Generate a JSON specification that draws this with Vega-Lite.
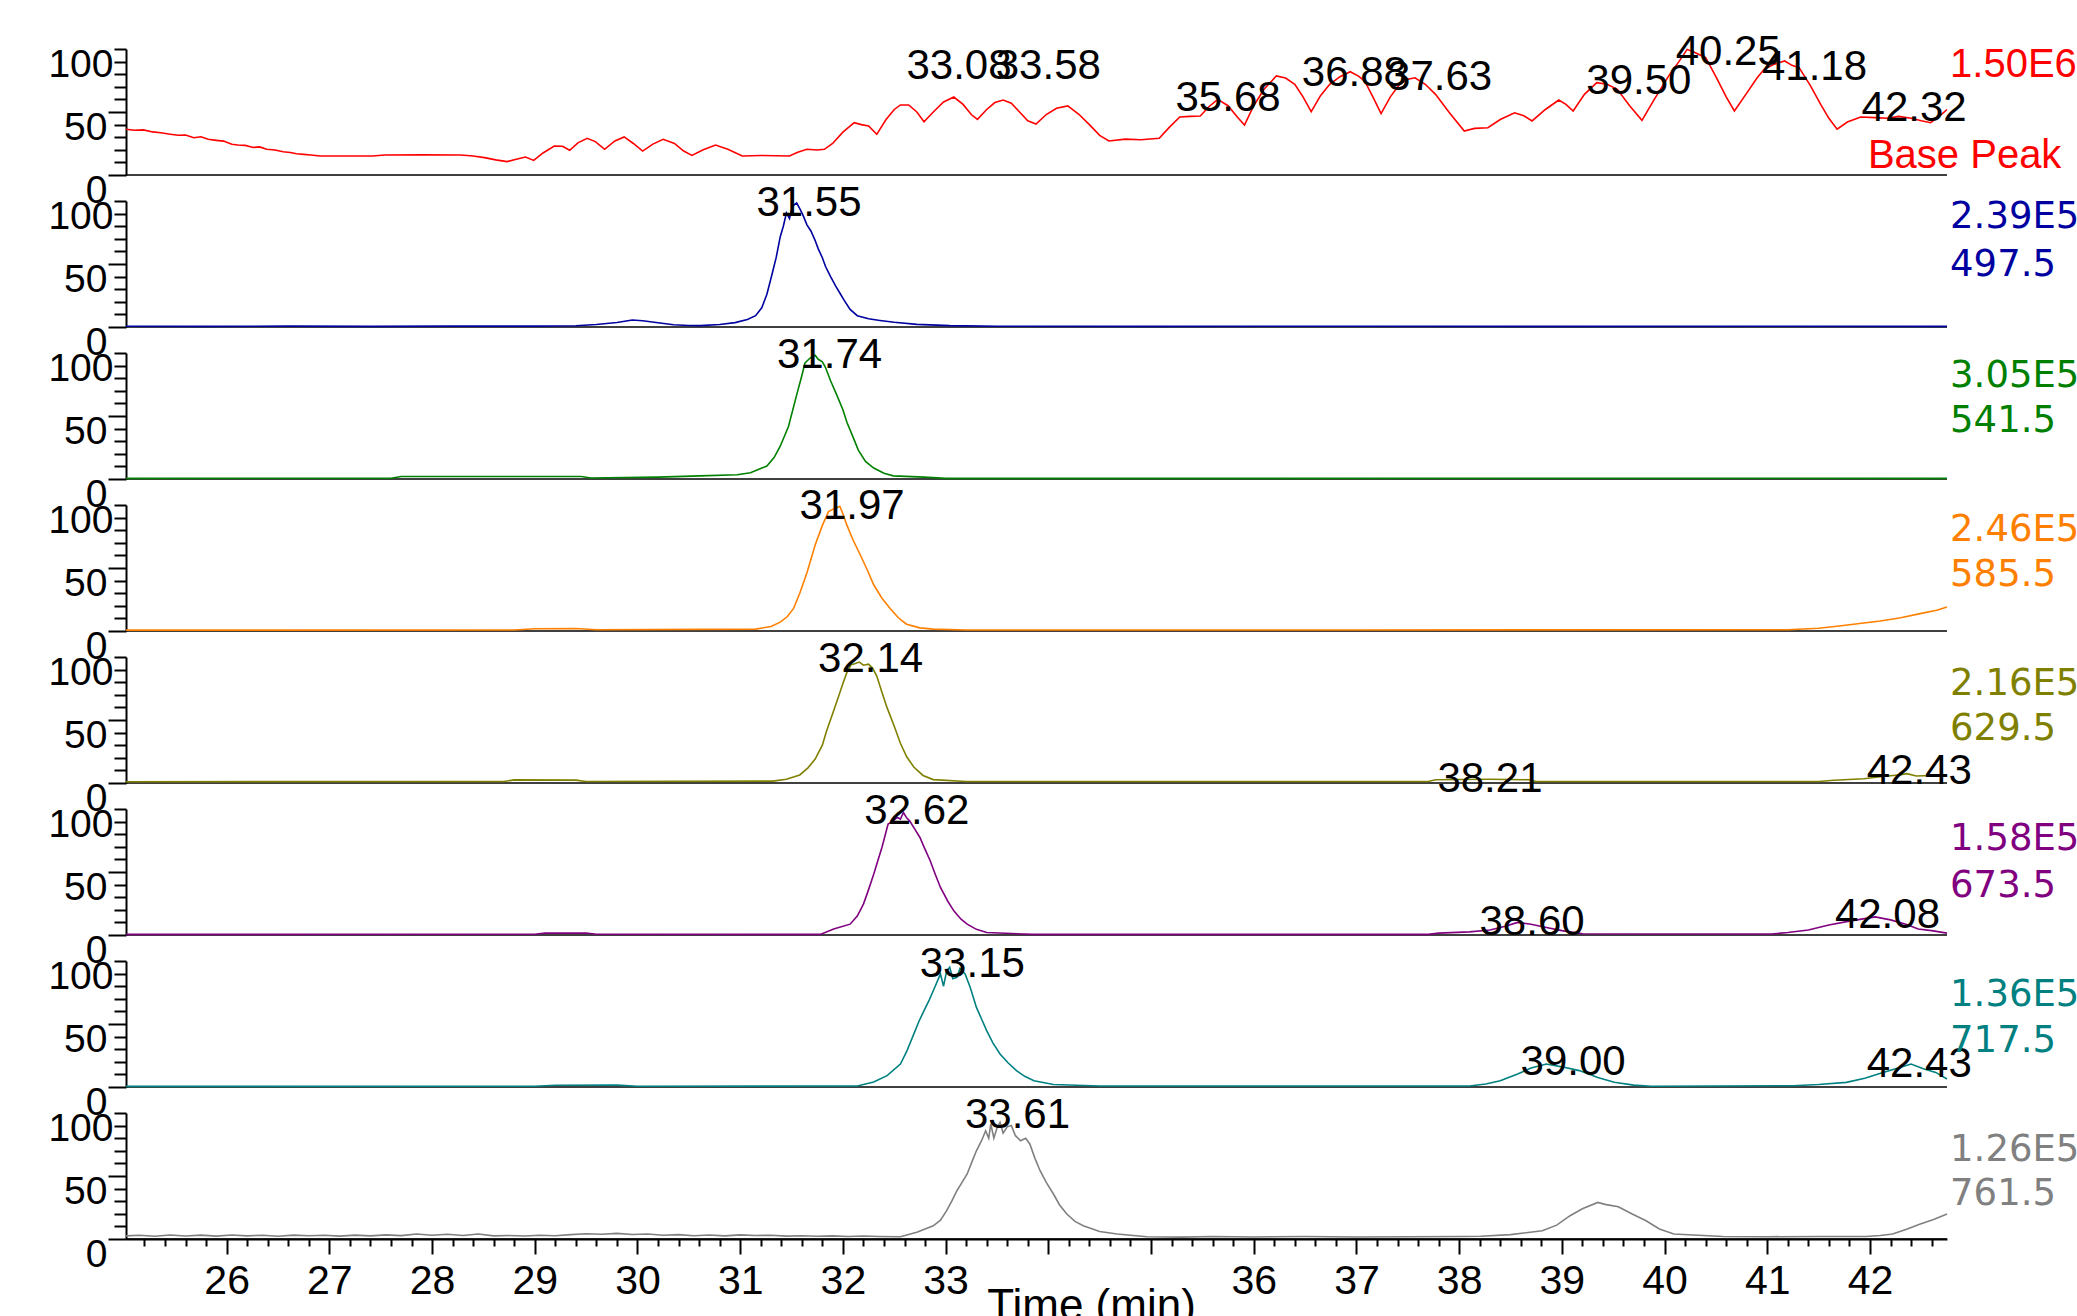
{
"$schema": "https://vega.github.io/schema/vega-lite/v6.json",
"padding": {"left": 47, "top": 30, "right": 0, "bottom": 0},
"bounds": "flush",
"background": "white",
"config": {"view": {"stroke": null}, "font": "Liberation Sans", "axis": {"labelOverlap": false, "labelFlush": false, "labelBound": false}},
"data": {"values": [
{"p":0,"t":25.02,"v":36.3},{"p":0,"t":25.1,"v":35.5},{"p":0,"t":25.19,"v":35.8},{"p":0,"t":25.28,"v":34.2},{"p":0,"t":25.36,"v":33.5},{"p":0,"t":25.45,"v":32.4},{"p":0,"t":25.53,"v":31.5},{"p":0,"t":25.6,"v":31.8},{"p":0,"t":25.68,"v":29.6},{"p":0,"t":25.75,"v":30.4},{"p":0,"t":25.82,"v":28.3},{"p":0,"t":25.9,"v":27.5},{"p":0,"t":25.97,"v":26.9},{"p":0,"t":26.05,"v":24.4},{"p":0,"t":26.11,"v":23.8},{"p":0,"t":26.18,"v":23.5},{"p":0,"t":26.26,"v":21.9},{"p":0,"t":26.32,"v":22.3},{"p":0,"t":26.39,"v":20.4},{"p":0,"t":26.47,"v":19.8},{"p":0,"t":26.55,"v":18.4},{"p":0,"t":26.62,"v":17.9},{"p":0,"t":26.68,"v":16.9},{"p":0,"t":26.75,"v":16.4},{"p":0,"t":26.82,"v":15.9},{"p":0,"t":26.91,"v":15.1},{"p":0,"t":27.2,"v":15.1},{"p":0,"t":27.42,"v":15.1},{"p":0,"t":27.54,"v":15.9},{"p":0,"t":27.9,"v":16.0},{"p":0,"t":28.28,"v":15.9},{"p":0,"t":28.4,"v":15.1},{"p":0,"t":28.51,"v":13.8},{"p":0,"t":28.62,"v":12.0},{"p":0,"t":28.73,"v":10.6},{"p":0,"t":28.82,"v":12.5},{"p":0,"t":28.91,"v":14.3},{"p":0,"t":28.99,"v":11.6},{"p":0,"t":29.08,"v":17.5},{"p":0,"t":29.19,"v":23.0},{"p":0,"t":29.27,"v":22.8},{"p":0,"t":29.34,"v":19.6},{"p":0,"t":29.42,"v":25.5},{"p":0,"t":29.51,"v":29.1},{"p":0,"t":29.59,"v":26.5},{"p":0,"t":29.68,"v":20.4},{"p":0,"t":29.78,"v":27.0},{"p":0,"t":29.87,"v":30.2},{"p":0,"t":29.96,"v":25.0},{"p":0,"t":30.05,"v":19.0},{"p":0,"t":30.15,"v":24.5},{"p":0,"t":30.25,"v":28.3},{"p":0,"t":30.36,"v":25.0},{"p":0,"t":30.45,"v":19.0},{"p":0,"t":30.53,"v":15.6},{"p":0,"t":30.64,"v":20.0},{"p":0,"t":30.76,"v":23.8},{"p":0,"t":30.88,"v":20.5},{"p":0,"t":31.02,"v":15.1},{"p":0,"t":31.2,"v":15.5},{"p":0,"t":31.35,"v":15.3},{"p":0,"t":31.48,"v":15.1},{"p":0,"t":31.56,"v":18.0},{"p":0,"t":31.65,"v":20.4},{"p":0,"t":31.75,"v":19.8},{"p":0,"t":31.82,"v":20.4},{"p":0,"t":31.9,"v":25.0},{"p":0,"t":32.0,"v":34.0},{"p":0,"t":32.11,"v":41.5},{"p":0,"t":32.18,"v":40.0},{"p":0,"t":32.25,"v":38.9},{"p":0,"t":32.33,"v":32.3},{"p":0,"t":32.42,"v":44.0},{"p":0,"t":32.5,"v":52.0},{"p":0,"t":32.56,"v":55.6},{"p":0,"t":32.64,"v":55.6},{"p":0,"t":32.72,"v":50.0},{"p":0,"t":32.79,"v":42.3},{"p":0,"t":32.88,"v":50.0},{"p":0,"t":32.98,"v":58.0},{"p":0,"t":33.08,"v":61.9},{"p":0,"t":33.17,"v":56.0},{"p":0,"t":33.25,"v":48.0},{"p":0,"t":33.31,"v":44.2},{"p":0,"t":33.4,"v":52.0},{"p":0,"t":33.48,"v":57.5},{"p":0,"t":33.56,"v":59.5},{"p":0,"t":33.64,"v":57.0},{"p":0,"t":33.72,"v":50.0},{"p":0,"t":33.8,"v":43.0},{"p":0,"t":33.88,"v":40.5},{"p":0,"t":33.98,"v":48.0},{"p":0,"t":34.08,"v":53.0},{"p":0,"t":34.19,"v":54.8},{"p":0,"t":34.3,"v":48.0},{"p":0,"t":34.4,"v":40.0},{"p":0,"t":34.5,"v":31.5},{"p":0,"t":34.59,"v":27.0},{"p":0,"t":34.75,"v":28.5},{"p":0,"t":34.9,"v":28.0},{"p":0,"t":35.08,"v":29.1},{"p":0,"t":35.18,"v":38.0},{"p":0,"t":35.28,"v":46.0},{"p":0,"t":35.38,"v":46.5},{"p":0,"t":35.48,"v":46.8},{"p":0,"t":35.56,"v":54.0},{"p":0,"t":35.65,"v":60.0},{"p":0,"t":35.75,"v":55.0},{"p":0,"t":35.84,"v":46.0},{"p":0,"t":35.91,"v":39.7},{"p":0,"t":36.0,"v":55.0},{"p":0,"t":36.1,"v":68.0},{"p":0,"t":36.22,"v":78.6},{"p":0,"t":36.31,"v":77.0},{"p":0,"t":36.4,"v":72.0},{"p":0,"t":36.48,"v":62.0},{"p":0,"t":36.56,"v":50.3},{"p":0,"t":36.65,"v":63.0},{"p":0,"t":36.74,"v":72.0},{"p":0,"t":36.84,"v":78.0},{"p":0,"t":36.94,"v":82.0},{"p":0,"t":37.02,"v":78.5},{"p":0,"t":37.08,"v":74.6},{"p":0,"t":37.16,"v":62.0},{"p":0,"t":37.24,"v":48.7},{"p":0,"t":37.33,"v":62.0},{"p":0,"t":37.42,"v":72.0},{"p":0,"t":37.5,"v":76.0},{"p":0,"t":37.57,"v":77.2},{"p":0,"t":37.67,"v":72.0},{"p":0,"t":37.77,"v":64.0},{"p":0,"t":37.9,"v":50.0},{"p":0,"t":38.05,"v":34.9},{"p":0,"t":38.15,"v":37.0},{"p":0,"t":38.28,"v":37.5},{"p":0,"t":38.4,"v":44.0},{"p":0,"t":38.54,"v":49.4},{"p":0,"t":38.63,"v":47.0},{"p":0,"t":38.71,"v":42.9},{"p":0,"t":38.84,"v":52.0},{"p":0,"t":38.97,"v":59.5},{"p":0,"t":39.04,"v":56.0},{"p":0,"t":39.11,"v":50.8},{"p":0,"t":39.22,"v":64.0},{"p":0,"t":39.34,"v":73.3},{"p":0,"t":39.44,"v":72.0},{"p":0,"t":39.54,"v":68.0},{"p":0,"t":39.66,"v":55.0},{"p":0,"t":39.78,"v":43.4},{"p":0,"t":39.9,"v":60.0},{"p":0,"t":40.05,"v":79.9},{"p":0,"t":40.14,"v":90.0},{"p":0,"t":40.22,"v":99.7},{"p":0,"t":40.3,"v":97.0},{"p":0,"t":40.4,"v":93.1},{"p":0,"t":40.5,"v":78.0},{"p":0,"t":40.6,"v":62.0},{"p":0,"t":40.68,"v":50.8},{"p":0,"t":40.8,"v":65.0},{"p":0,"t":40.9,"v":77.0},{"p":0,"t":40.97,"v":83.9},{"p":0,"t":41.07,"v":88.0},{"p":0,"t":41.17,"v":90.5},{"p":0,"t":41.24,"v":87.0},{"p":0,"t":41.31,"v":85.2},{"p":0,"t":41.42,"v":71.0},{"p":0,"t":41.52,"v":56.0},{"p":0,"t":41.6,"v":45.0},{"p":0,"t":41.68,"v":36.3},{"p":0,"t":41.78,"v":42.0},{"p":0,"t":41.91,"v":46.0},{"p":0,"t":42.05,"v":45.5},{"p":0,"t":42.17,"v":45.0},{"p":0,"t":42.28,"v":46.5},{"p":0,"t":42.4,"v":45.0},{"p":0,"t":42.5,"v":43.0},{"p":0,"t":42.59,"v":41.5},{"p":0,"t":42.68,"v":47.0},{"p":0,"t":42.75,"v":52.0},

{"p":1,"t":25.02,"v":0.6},{"p":1,"t":25.8,"v":0.5},{"p":1,"t":26.6,"v":0.7},{"p":1,"t":27.4,"v":0.5},{"p":1,"t":28.2,"v":0.7},{"p":1,"t":29.0,"v":0.7},{"p":1,"t":29.4,"v":1.0},{"p":1,"t":29.6,"v":2.0},{"p":1,"t":29.8,"v":3.6},{"p":1,"t":29.95,"v":5.5},{"p":1,"t":30.05,"v":5.0},{"p":1,"t":30.2,"v":3.4},{"p":1,"t":30.35,"v":1.8},{"p":1,"t":30.5,"v":1.2},{"p":1,"t":30.61,"v":1.1},{"p":1,"t":30.8,"v":2.0},{"p":1,"t":30.95,"v":3.5},{"p":1,"t":31.07,"v":5.9},{"p":1,"t":31.15,"v":9.0},{"p":1,"t":31.21,"v":15.2},{"p":1,"t":31.26,"v":26.0},{"p":1,"t":31.31,"v":41.9},{"p":1,"t":31.35,"v":55.0},{"p":1,"t":31.39,"v":71.7},{"p":1,"t":31.42,"v":80.0},{"p":1,"t":31.45,"v":90.5},{"p":1,"t":31.48,"v":86.0},{"p":1,"t":31.51,"v":96.0},{"p":1,"t":31.55,"v":98.4},{"p":1,"t":31.58,"v":94.0},{"p":1,"t":31.61,"v":89.0},{"p":1,"t":31.65,"v":81.1},{"p":1,"t":31.69,"v":76.0},{"p":1,"t":31.73,"v":68.6},{"p":1,"t":31.76,"v":62.0},{"p":1,"t":31.8,"v":55.0},{"p":1,"t":31.83,"v":48.2},{"p":1,"t":31.88,"v":40.0},{"p":1,"t":31.93,"v":32.5},{"p":1,"t":31.97,"v":27.0},{"p":1,"t":32.01,"v":21.5},{"p":1,"t":32.07,"v":14.0},{"p":1,"t":32.14,"v":9.0},{"p":1,"t":32.25,"v":6.5},{"p":1,"t":32.36,"v":5.2},{"p":1,"t":32.5,"v":3.8},{"p":1,"t":32.72,"v":2.1},{"p":1,"t":33.04,"v":1.1},{"p":1,"t":33.5,"v":0.6},{"p":1,"t":35.0,"v":0.5},{"p":1,"t":37.0,"v":0.6},{"p":1,"t":39.0,"v":0.5},{"p":1,"t":41.0,"v":0.6},{"p":1,"t":42.75,"v":0.5},

{"p":2,"t":25.02,"v":0.5},{"p":2,"t":27.6,"v":0.6},{"p":2,"t":27.7,"v":2.0},{"p":2,"t":29.45,"v":2.0},{"p":2,"t":29.55,"v":0.8},{"p":2,"t":30.2,"v":1.5},{"p":2,"t":30.61,"v":2.5},{"p":2,"t":30.97,"v":3.4},{"p":2,"t":31.1,"v":5.0},{"p":2,"t":31.26,"v":10.3},{"p":2,"t":31.33,"v":17.0},{"p":2,"t":31.39,"v":26.0},{"p":2,"t":31.47,"v":41.7},{"p":2,"t":31.55,"v":66.8},{"p":2,"t":31.6,"v":82.0},{"p":2,"t":31.63,"v":91.9},{"p":2,"t":31.68,"v":96.0},{"p":2,"t":31.73,"v":98.2},{"p":2,"t":31.76,"v":95.0},{"p":2,"t":31.8,"v":93.0},{"p":2,"t":31.83,"v":88.7},{"p":2,"t":31.88,"v":78.0},{"p":2,"t":31.94,"v":66.8},{"p":2,"t":32.0,"v":55.0},{"p":2,"t":32.04,"v":44.8},{"p":2,"t":32.1,"v":33.0},{"p":2,"t":32.15,"v":22.9},{"p":2,"t":32.22,"v":14.0},{"p":2,"t":32.3,"v":8.7},{"p":2,"t":32.4,"v":4.5},{"p":2,"t":32.49,"v":2.5},{"p":2,"t":32.79,"v":1.5},{"p":2,"t":33.0,"v":0.5},{"p":2,"t":36.0,"v":0.5},{"p":2,"t":39.2,"v":0.6},{"p":2,"t":42.75,"v":0.5},

{"p":3,"t":25.02,"v":0.7},{"p":3,"t":28.8,"v":0.8},{"p":3,"t":29.0,"v":1.8},{"p":3,"t":29.4,"v":2.0},{"p":3,"t":29.6,"v":1.0},{"p":3,"t":31.15,"v":1.5},{"p":3,"t":31.3,"v":3.5},{"p":3,"t":31.39,"v":7.0},{"p":3,"t":31.46,"v":11.5},{"p":3,"t":31.52,"v":17.9},{"p":3,"t":31.58,"v":30.0},{"p":3,"t":31.65,"v":46.2},{"p":3,"t":31.73,"v":68.2},{"p":3,"t":31.8,"v":83.8},{"p":3,"t":31.86,"v":94.8},{"p":3,"t":31.9,"v":96.5},{"p":3,"t":31.94,"v":97.9},{"p":3,"t":31.97,"v":99.0},{"p":3,"t":32.0,"v":93.0},{"p":3,"t":32.04,"v":83.8},{"p":3,"t":32.1,"v":72.0},{"p":3,"t":32.17,"v":60.3},{"p":3,"t":32.24,"v":48.0},{"p":3,"t":32.3,"v":36.7},{"p":3,"t":32.38,"v":26.0},{"p":3,"t":32.46,"v":17.9},{"p":3,"t":32.54,"v":10.5},{"p":3,"t":32.62,"v":5.4},{"p":3,"t":32.75,"v":2.5},{"p":3,"t":32.88,"v":1.5},{"p":3,"t":33.2,"v":0.8},{"p":3,"t":37.0,"v":0.8},{"p":3,"t":41.2,"v":1.0},{"p":3,"t":41.5,"v":2.2},{"p":3,"t":41.7,"v":4.0},{"p":3,"t":41.9,"v":6.0},{"p":3,"t":42.1,"v":8.0},{"p":3,"t":42.3,"v":10.5},{"p":3,"t":42.5,"v":14.0},{"p":3,"t":42.65,"v":16.5},{"p":3,"t":42.75,"v":19.0},

{"p":4,"t":25.02,"v":1.0},{"p":4,"t":28.7,"v":1.2},{"p":4,"t":28.8,"v":2.5},{"p":4,"t":29.4,"v":2.3},{"p":4,"t":29.5,"v":1.2},{"p":4,"t":31.32,"v":1.5},{"p":4,"t":31.45,"v":3.0},{"p":4,"t":31.58,"v":6.4},{"p":4,"t":31.66,"v":12.0},{"p":4,"t":31.73,"v":19.0},{"p":4,"t":31.8,"v":30.0},{"p":4,"t":31.84,"v":41.0},{"p":4,"t":31.9,"v":55.0},{"p":4,"t":31.96,"v":69.2},{"p":4,"t":32.0,"v":79.0},{"p":4,"t":32.04,"v":88.0},{"p":4,"t":32.08,"v":94.0},{"p":4,"t":32.1,"v":94.3},{"p":4,"t":32.16,"v":96.0},{"p":4,"t":32.2,"v":93.5},{"p":4,"t":32.25,"v":94.3},{"p":4,"t":32.29,"v":91.0},{"p":4,"t":32.33,"v":84.9},{"p":4,"t":32.38,"v":72.0},{"p":4,"t":32.43,"v":59.8},{"p":4,"t":32.5,"v":45.0},{"p":4,"t":32.56,"v":31.5},{"p":4,"t":32.62,"v":21.0},{"p":4,"t":32.69,"v":12.7},{"p":4,"t":32.78,"v":6.0},{"p":4,"t":32.88,"v":2.7},{"p":4,"t":33.2,"v":1.2},{"p":4,"t":37.7,"v":1.2},{"p":4,"t":37.77,"v":2.6},{"p":4,"t":38.0,"v":2.8},{"p":4,"t":38.3,"v":3.0},{"p":4,"t":38.68,"v":2.6},{"p":4,"t":38.75,"v":1.2},{"p":4,"t":41.5,"v":1.2},{"p":4,"t":41.65,"v":2.2},{"p":4,"t":41.94,"v":3.4},{"p":4,"t":42.1,"v":5.0},{"p":4,"t":42.3,"v":6.5},{"p":4,"t":42.36,"v":7.4},{"p":4,"t":42.45,"v":5.5},{"p":4,"t":42.6,"v":6.0},{"p":4,"t":42.75,"v":5.6},

{"p":5,"t":25.02,"v":0.5},{"p":5,"t":29.0,"v":0.6},{"p":5,"t":29.1,"v":1.5},{"p":5,"t":29.5,"v":1.6},{"p":5,"t":29.6,"v":0.6},{"p":5,"t":31.78,"v":0.5},{"p":5,"t":31.91,"v":4.7},{"p":5,"t":32.07,"v":8.6},{"p":5,"t":32.14,"v":15.0},{"p":5,"t":32.2,"v":24.5},{"p":5,"t":32.25,"v":36.0},{"p":5,"t":32.3,"v":48.3},{"p":5,"t":32.34,"v":59.0},{"p":5,"t":32.38,"v":69.4},{"p":5,"t":32.44,"v":88.0},{"p":5,"t":32.48,"v":90.0},{"p":5,"t":32.53,"v":93.3},{"p":5,"t":32.56,"v":92.0},{"p":5,"t":32.59,"v":97.2},{"p":5,"t":32.62,"v":93.0},{"p":5,"t":32.65,"v":90.6},{"p":5,"t":32.7,"v":84.0},{"p":5,"t":32.75,"v":77.4},{"p":5,"t":32.8,"v":68.0},{"p":5,"t":32.85,"v":58.9},{"p":5,"t":32.9,"v":48.0},{"p":5,"t":32.95,"v":37.7},{"p":5,"t":33.02,"v":27.0},{"p":5,"t":33.08,"v":19.2},{"p":5,"t":33.15,"v":12.5},{"p":5,"t":33.21,"v":8.6},{"p":5,"t":33.3,"v":4.5},{"p":5,"t":33.4,"v":2.0},{"p":5,"t":33.85,"v":0.5},{"p":5,"t":37.7,"v":0.5},{"p":5,"t":37.8,"v":1.5},{"p":5,"t":38.1,"v":2.5},{"p":5,"t":38.3,"v":4.0},{"p":5,"t":38.45,"v":7.0},{"p":5,"t":38.57,"v":10.0},{"p":5,"t":38.7,"v":8.5},{"p":5,"t":38.85,"v":6.0},{"p":5,"t":39.0,"v":3.5},{"p":5,"t":39.2,"v":1.0},{"p":5,"t":41.04,"v":0.8},{"p":5,"t":41.2,"v":2.0},{"p":5,"t":41.4,"v":4.0},{"p":5,"t":41.6,"v":8.0},{"p":5,"t":41.8,"v":11.0},{"p":5,"t":42.05,"v":14.4},{"p":5,"t":42.2,"v":12.0},{"p":5,"t":42.35,"v":8.5},{"p":5,"t":42.47,"v":4.7},{"p":5,"t":42.6,"v":3.5},{"p":5,"t":42.75,"v":1.5},

{"p":6,"t":25.02,"v":0.5},{"p":6,"t":29.0,"v":0.6},{"p":6,"t":29.2,"v":1.4},{"p":6,"t":29.8,"v":1.5},{"p":6,"t":30.0,"v":0.6},{"p":6,"t":32.14,"v":0.8},{"p":6,"t":32.3,"v":4.0},{"p":6,"t":32.43,"v":9.0},{"p":6,"t":32.56,"v":18.2},{"p":6,"t":32.62,"v":28.0},{"p":6,"t":32.69,"v":42.0},{"p":6,"t":32.74,"v":52.0},{"p":6,"t":32.79,"v":60.6},{"p":6,"t":32.84,"v":69.0},{"p":6,"t":32.88,"v":76.4},{"p":6,"t":32.92,"v":84.0},{"p":6,"t":32.95,"v":89.7},{"p":6,"t":32.98,"v":80.0},{"p":6,"t":33.01,"v":92.0},{"p":6,"t":33.04,"v":95.0},{"p":6,"t":33.07,"v":86.0},{"p":6,"t":33.11,"v":87.0},{"p":6,"t":33.14,"v":94.0},{"p":6,"t":33.19,"v":89.7},{"p":6,"t":33.24,"v":79.0},{"p":6,"t":33.3,"v":63.2},{"p":6,"t":33.35,"v":54.0},{"p":6,"t":33.4,"v":44.7},{"p":6,"t":33.46,"v":35.0},{"p":6,"t":33.53,"v":26.2},{"p":6,"t":33.61,"v":19.0},{"p":6,"t":33.69,"v":13.0},{"p":6,"t":33.77,"v":8.5},{"p":6,"t":33.86,"v":5.0},{"p":6,"t":34.05,"v":2.0},{"p":6,"t":34.5,"v":0.8},{"p":6,"t":38.1,"v":0.8},{"p":6,"t":38.26,"v":2.4},{"p":6,"t":38.4,"v":5.0},{"p":6,"t":38.57,"v":10.3},{"p":6,"t":38.7,"v":15.0},{"p":6,"t":38.85,"v":18.2},{"p":6,"t":39.0,"v":16.0},{"p":6,"t":39.17,"v":13.0},{"p":6,"t":39.35,"v":7.5},{"p":6,"t":39.51,"v":3.7},{"p":6,"t":39.7,"v":1.5},{"p":6,"t":39.87,"v":0.6},{"p":6,"t":41.25,"v":1.0},{"p":6,"t":41.5,"v":2.0},{"p":6,"t":41.77,"v":3.7},{"p":6,"t":41.95,"v":7.0},{"p":6,"t":42.08,"v":10.3},{"p":6,"t":42.25,"v":14.5},{"p":6,"t":42.4,"v":18.2},{"p":6,"t":42.52,"v":14.5},{"p":6,"t":42.64,"v":11.6},{"p":6,"t":42.75,"v":6.3},

{"p":7,"t":25.02,"v":2.5},{"p":7,"t":25.15,"v":3.0},{"p":7,"t":25.3,"v":2.2},{"p":7,"t":25.45,"v":3.2},{"p":7,"t":25.6,"v":2.4},{"p":7,"t":25.75,"v":3.1},{"p":7,"t":25.9,"v":2.3},{"p":7,"t":26.05,"v":3.2},{"p":7,"t":26.2,"v":2.5},{"p":7,"t":26.35,"v":3.0},{"p":7,"t":26.5,"v":2.2},{"p":7,"t":26.65,"v":3.1},{"p":7,"t":26.8,"v":2.6},{"p":7,"t":26.95,"v":3.0},{"p":7,"t":27.1,"v":2.3},{"p":7,"t":27.25,"v":3.1},{"p":7,"t":27.4,"v":2.5},{"p":7,"t":27.55,"v":3.3},{"p":7,"t":27.7,"v":2.7},{"p":7,"t":27.85,"v":4.0},{"p":7,"t":28.0,"v":3.0},{"p":7,"t":28.15,"v":3.8},{"p":7,"t":28.3,"v":2.8},{"p":7,"t":28.45,"v":4.0},{"p":7,"t":28.6,"v":2.5},{"p":7,"t":28.75,"v":2.8},{"p":7,"t":28.9,"v":2.4},{"p":7,"t":29.05,"v":3.0},{"p":7,"t":29.2,"v":2.6},{"p":7,"t":29.35,"v":3.5},{"p":7,"t":29.5,"v":4.2},{"p":7,"t":29.65,"v":3.8},{"p":7,"t":29.8,"v":4.5},{"p":7,"t":29.95,"v":3.6},{"p":7,"t":30.1,"v":4.0},{"p":7,"t":30.25,"v":3.0},{"p":7,"t":30.4,"v":3.5},{"p":7,"t":30.55,"v":2.6},{"p":7,"t":30.7,"v":3.2},{"p":7,"t":30.85,"v":2.5},{"p":7,"t":31.0,"v":3.3},{"p":7,"t":31.15,"v":2.8},{"p":7,"t":31.3,"v":3.0},{"p":7,"t":31.45,"v":2.3},{"p":7,"t":31.6,"v":2.6},{"p":7,"t":31.75,"v":2.2},{"p":7,"t":31.9,"v":2.5},{"p":7,"t":32.05,"v":2.0},{"p":7,"t":32.2,"v":2.4},{"p":7,"t":32.35,"v":2.0},{"p":7,"t":32.56,"v":1.8},{"p":7,"t":32.72,"v":5.3},{"p":7,"t":32.88,"v":10.5},{"p":7,"t":32.95,"v":15.0},{"p":7,"t":33.01,"v":22.5},{"p":7,"t":33.06,"v":30.0},{"p":7,"t":33.11,"v":38.3},{"p":7,"t":33.16,"v":45.0},{"p":7,"t":33.21,"v":51.6},{"p":7,"t":33.26,"v":62.0},{"p":7,"t":33.3,"v":70.0},{"p":7,"t":33.35,"v":78.0},{"p":7,"t":33.39,"v":85.9},{"p":7,"t":33.42,"v":80.0},{"p":7,"t":33.44,"v":91.3},{"p":7,"t":33.47,"v":80.0},{"p":7,"t":33.5,"v":88.0},{"p":7,"t":33.53,"v":92.6},{"p":7,"t":33.56,"v":84.0},{"p":7,"t":33.6,"v":89.0},{"p":7,"t":33.64,"v":90.0},{"p":7,"t":33.68,"v":82.0},{"p":7,"t":33.73,"v":78.0},{"p":7,"t":33.78,"v":80.0},{"p":7,"t":33.82,"v":75.4},{"p":7,"t":33.87,"v":64.0},{"p":7,"t":33.92,"v":54.2},{"p":7,"t":33.98,"v":45.0},{"p":7,"t":34.05,"v":35.7},{"p":7,"t":34.11,"v":27.0},{"p":7,"t":34.18,"v":19.8},{"p":7,"t":34.26,"v":14.0},{"p":7,"t":34.34,"v":10.5},{"p":7,"t":34.5,"v":6.0},{"p":7,"t":34.67,"v":4.0},{"p":7,"t":34.96,"v":1.8},{"p":7,"t":35.3,"v":1.5},{"p":7,"t":35.6,"v":2.0},{"p":7,"t":36.0,"v":1.6},{"p":7,"t":36.5,"v":2.0},{"p":7,"t":37.0,"v":1.6},{"p":7,"t":37.5,"v":1.8},{"p":7,"t":38.0,"v":2.0},{"p":7,"t":38.21,"v":2.2},{"p":7,"t":38.5,"v":3.5},{"p":7,"t":38.81,"v":6.6},{"p":7,"t":38.95,"v":11.0},{"p":7,"t":39.08,"v":18.5},{"p":7,"t":39.2,"v":24.0},{"p":7,"t":39.35,"v":29.0},{"p":7,"t":39.42,"v":27.5},{"p":7,"t":39.55,"v":25.6},{"p":7,"t":39.68,"v":20.0},{"p":7,"t":39.82,"v":14.5},{"p":7,"t":39.95,"v":8.0},{"p":7,"t":40.09,"v":4.0},{"p":7,"t":40.57,"v":2.0},{"p":7,"t":41.0,"v":1.8},{"p":7,"t":41.5,"v":2.0},{"p":7,"t":41.96,"v":2.0},{"p":7,"t":42.1,"v":2.8},{"p":7,"t":42.22,"v":4.0},{"p":7,"t":42.35,"v":7.5},{"p":7,"t":42.49,"v":11.9},{"p":7,"t":42.62,"v":15.5},{"p":7,"t":42.75,"v":19.8},

{"p":0,"t":33.13,"v":86.5,"s":"33.08","k":"pk"},{"p":0,"t":34.0,"v":86.5,"s":"33.58","k":"pk"},{"p":0,"t":35.75,"v":60.8,"s":"35.68","k":"pk"},{"p":0,"t":36.98,"v":81,"s":"36.88","k":"pk"},{"p":0,"t":37.81,"v":77.5,"s":"37.63","k":"pk"},{"p":0,"t":39.75,"v":74.5,"s":"39.50","k":"pk"},{"p":0,"t":40.62,"v":98,"s":"40.25","k":"pk"},{"p":0,"t":41.46,"v":86,"s":"41.18","k":"pk"},{"p":0,"t":42.43,"v":53.5,"s":"42.32","k":"pk"},
{"p":1,"t":31.67,"v":98.7,"s":"31.55","k":"pk"},
{"p":2,"t":31.87,"v":98.5,"s":"31.74","k":"pk"},
{"p":3,"t":32.09,"v":99.4,"s":"31.97","k":"pk"},
{"p":4,"t":32.27,"v":98.2,"s":"32.14","k":"pk"},{"p":4,"t":38.3,"v":3.2,"s":"38.21","k":"pk"},{"p":4,"t":42.48,"v":9.6,"s":"42.43","k":"pk"},
{"p":5,"t":32.72,"v":98.5,"s":"32.62","k":"pk"},{"p":5,"t":38.71,"v":10.2,"s":"38.60","k":"pk"},{"p":5,"t":42.17,"v":16,"s":"42.08","k":"pk"},
{"p":6,"t":33.26,"v":97.9,"s":"33.15","k":"pk"},{"p":6,"t":39.11,"v":20,"s":"39.00","k":"pk"},{"p":6,"t":42.48,"v":18.6,"s":"42.43","k":"pk"},
{"p":7,"t":33.7,"v":98.8,"s":"33.61","k":"pk"},

{"p":0,"t":42.78,"v":87.3,"s":"1.50E6","k":"r1"},{"p":0,"t":41.98,"v":14.7,"s":"Base Peak","k":"r2"},
{"p":1,"t":42.78,"v":87.1,"s":"2.39E5","k":"r1"},{"p":1,"t":42.78,"v":49.3,"s":"497.5","k":"r2"},
{"p":2,"t":42.78,"v":81.7,"s":"3.05E5","k":"r1"},{"p":2,"t":42.78,"v":46.0,"s":"541.5","k":"r2"},
{"p":3,"t":42.78,"v":80.5,"s":"2.46E5","k":"r1"},{"p":3,"t":42.78,"v":44.7,"s":"585.5","k":"r2"},
{"p":4,"t":42.78,"v":78.2,"s":"2.16E5","k":"r1"},{"p":4,"t":42.78,"v":42.5,"s":"629.5","k":"r2"},
{"p":5,"t":42.78,"v":76.0,"s":"1.58E5","k":"r1"},{"p":5,"t":42.78,"v":39.2,"s":"673.5","k":"r2"},
{"p":6,"t":42.78,"v":72.7,"s":"1.36E5","k":"r1"},{"p":6,"t":42.78,"v":36.9,"s":"717.5","k":"r2"},
{"p":7,"t":42.78,"v":70.4,"s":"1.26E5","k":"r1"},{"p":7,"t":42.78,"v":35.7,"s":"761.5","k":"r2"}
]},
"facet": {"row": {"field": "p", "type": "ordinal", "header": {"labels": false, "title": null, "labelPadding": 0, "titlePadding": 0}}},
"spacing": {"row": 26},
"resolve": {"scale": {"x": "shared", "y": "shared"}},
"spec": {
 "width": 1821,
 "height": 126,
 "layer": [
  {
   "transform": [{"filter": "datum.k === 'r1'"}],
   "mark": {"type": "rule", "color": "black", "strokeWidth": 1.5},
   "encoding": {"y": {"datum": 0, "type": "quantitative", "scale": {"domain": [0, 100], "nice": false, "zero": true},
      "axis": {"values": [0,10,20,30,40,50,60,70,80,90,100],
        "labelExpr": "datum.value % 50 === 0 ? datum.label : ''",
        "labelBaseline": "top", "labelFont": "Liberation Sans", "labelFontSize": 39, "labelColor": "black", "labelPadding": 1, "labelOffset": -4,
        "labelFlush": false, "labelOverlap": false, "labelBound": false,
        "tickSize": {"condition": {"test": "datum.value === 0 || datum.value === 50", "value": 18}, "value": 12},
        "tickColor": "black", "tickWidth": 2, "domainColor": "black", "domainWidth": 2, "grid": false, "title": null}}}
  },
  {
   "transform": [{"filter": "!datum.k"}],
   "mark": {"type": "line", "strokeWidth": 1.6, "interpolate": "linear"},
   "encoding": {
    "x": {"field": "t", "type": "quantitative", "scale": {"domain": [25.02, 42.75], "nice": false, "zero": false},
      "axis": {"values": [25.2,25.4,25.6,25.8,26,26.2,26.4,26.6,26.8,27,27.2,27.4,27.6,27.8,28,28.2,28.4,28.6,28.8,29,29.2,29.4,29.6,29.8,30,30.2,30.4,30.6,30.8,31,31.2,31.4,31.6,31.8,32,32.2,32.4,32.6,32.8,33,33.2,33.4,33.6,33.8,34,34.2,34.4,34.6,34.8,35,35.2,35.4,35.6,35.8,36,36.2,36.4,36.6,36.8,37,37.2,37.4,37.6,37.8,38,38.2,38.4,38.6,38.8,39,39.2,39.4,39.6,39.8,40,40.2,40.4,40.6,40.8,41,41.2,41.4,41.6,41.8,42,42.2,42.4,42.6],
        "labelExpr": "(abs(datum.value - round(datum.value)) < 0.01 && round(datum.value) != 34 && round(datum.value) != 35) ? format(round(datum.value), 'd') : ''",
        "tickSize": {"condition": {"test": "abs(datum.value - round(datum.value)) < 0.01", "value": 15}, "value": 7},
        "tickColor": "black", "tickWidth": 2, "domainColor": "black", "domainWidth": 2, "grid": false,
        "labelFont": "Liberation Sans", "labelFontSize": 41, "labelColor": "black", "labelPadding": 7, "labelFlush": false, "labelOverlap": false, "labelBound": false,
        "title": "Time (min)", "titleFont": "Liberation Sans", "titleFontSize": 44, "titleFontWeight": "normal", "titleColor": "black",
        "titleAnchor": null, "titleAlign": "center", "titleBaseline": "alphabetic", "titleX": 965, "titleY": 80}},
    "y": {"field": "v", "type": "quantitative", "scale": {"domain": [0, 100], "nice": false, "zero": true},
      "axis": {"values": [0,10,20,30,40,50,60,70,80,90,100],
        "labelExpr": "datum.value % 50 === 0 ? datum.label : ''",
        "labelBaseline": "top", "labelFont": "Liberation Sans", "labelFontSize": 39, "labelColor": "black", "labelPadding": 1, "labelOffset": -4,
        "labelFlush": false, "labelOverlap": false, "labelBound": false,
        "tickSize": {"condition": {"test": "datum.value === 0 || datum.value === 50", "value": 18}, "value": 12},
        "tickColor": "black", "tickWidth": 2, "domainColor": "black", "domainWidth": 2, "grid": false, "title": null}},
    "color": {"field": "p", "type": "nominal", "scale": {"domain": [0,1,2,3,4,5,6,7], "range": ["#FF0000","#0000A0","#008000","#FF8000","#808000","#800080","#008080","#808080"]}, "legend": null}
   }
  },
  {
   "transform": [{"filter": "datum.k === 'pk'"}],
   "mark": {"type": "text", "font": "Liberation Sans", "fontSize": 42, "color": "black", "align": "center", "baseline": "middle"},
   "encoding": {
    "x": {"field": "t", "type": "quantitative", "scale": {"domain": [25.02, 42.75], "nice": false, "zero": false},
      "axis": {"values": [25.2,25.4,25.6,25.8,26,26.2,26.4,26.6,26.8,27,27.2,27.4,27.6,27.8,28,28.2,28.4,28.6,28.8,29,29.2,29.4,29.6,29.8,30,30.2,30.4,30.6,30.8,31,31.2,31.4,31.6,31.8,32,32.2,32.4,32.6,32.8,33,33.2,33.4,33.6,33.8,34,34.2,34.4,34.6,34.8,35,35.2,35.4,35.6,35.8,36,36.2,36.4,36.6,36.8,37,37.2,37.4,37.6,37.8,38,38.2,38.4,38.6,38.8,39,39.2,39.4,39.6,39.8,40,40.2,40.4,40.6,40.8,41,41.2,41.4,41.6,41.8,42,42.2,42.4,42.6],
        "labelExpr": "(abs(datum.value - round(datum.value)) < 0.01 && round(datum.value) != 34 && round(datum.value) != 35) ? format(round(datum.value), 'd') : ''",
        "tickSize": {"condition": {"test": "abs(datum.value - round(datum.value)) < 0.01", "value": 15}, "value": 7},
        "tickColor": "black", "tickWidth": 2, "domainColor": "black", "domainWidth": 2, "grid": false,
        "labelFont": "Liberation Sans", "labelFontSize": 41, "labelColor": "black", "labelPadding": 7, "labelFlush": false, "labelOverlap": false, "labelBound": false,
        "title": "Time (min)", "titleFont": "Liberation Sans", "titleFontSize": 44, "titleFontWeight": "normal", "titleColor": "black",
        "titleAnchor": null, "titleAlign": "center", "titleBaseline": "alphabetic", "titleX": 965, "titleY": 80}},
    "y": {"field": "v", "type": "quantitative", "scale": {"domain": [0, 100], "nice": false, "zero": true},
      "axis": {"values": [0,10,20,30,40,50,60,70,80,90,100],
        "labelExpr": "datum.value % 50 === 0 ? datum.label : ''",
        "labelBaseline": "top", "labelFont": "Liberation Sans", "labelFontSize": 39, "labelColor": "black", "labelPadding": 1, "labelOffset": -4,
        "labelFlush": false, "labelOverlap": false, "labelBound": false,
        "tickSize": {"condition": {"test": "datum.value === 0 || datum.value === 50", "value": 18}, "value": 12},
        "tickColor": "black", "tickWidth": 2, "domainColor": "black", "domainWidth": 2, "grid": false, "title": null}},
    "text": {"field": "s"}
   }
  },
  {
   "transform": [{"filter": "(datum.k === 'r1' || datum.k === 'r2') && datum.p === 0"}],
   "mark": {"type": "text", "font": "Liberation Sans", "fontSize": 40, "align": "left", "baseline": "middle"},
   "encoding": {
    "x": {"field": "t", "type": "quantitative", "scale": {"domain": [25.02, 42.75], "nice": false, "zero": false},
      "axis": {"values": [25.2,25.4,25.6,25.8,26,26.2,26.4,26.6,26.8,27,27.2,27.4,27.6,27.8,28,28.2,28.4,28.6,28.8,29,29.2,29.4,29.6,29.8,30,30.2,30.4,30.6,30.8,31,31.2,31.4,31.6,31.8,32,32.2,32.4,32.6,32.8,33,33.2,33.4,33.6,33.8,34,34.2,34.4,34.6,34.8,35,35.2,35.4,35.6,35.8,36,36.2,36.4,36.6,36.8,37,37.2,37.4,37.6,37.8,38,38.2,38.4,38.6,38.8,39,39.2,39.4,39.6,39.8,40,40.2,40.4,40.6,40.8,41,41.2,41.4,41.6,41.8,42,42.2,42.4,42.6],
        "labelExpr": "(abs(datum.value - round(datum.value)) < 0.01 && round(datum.value) != 34 && round(datum.value) != 35) ? format(round(datum.value), 'd') : ''",
        "tickSize": {"condition": {"test": "abs(datum.value - round(datum.value)) < 0.01", "value": 15}, "value": 7},
        "tickColor": "black", "tickWidth": 2, "domainColor": "black", "domainWidth": 2, "grid": false,
        "labelFont": "Liberation Sans", "labelFontSize": 41, "labelColor": "black", "labelPadding": 7, "labelFlush": false, "labelOverlap": false, "labelBound": false,
        "title": "Time (min)", "titleFont": "Liberation Sans", "titleFontSize": 44, "titleFontWeight": "normal", "titleColor": "black",
        "titleAnchor": null, "titleAlign": "center", "titleBaseline": "alphabetic", "titleX": 965, "titleY": 80}},
    "y": {"field": "v", "type": "quantitative", "scale": {"domain": [0, 100], "nice": false, "zero": true},
      "axis": {"values": [0,10,20,30,40,50,60,70,80,90,100],
        "labelExpr": "datum.value % 50 === 0 ? datum.label : ''",
        "labelBaseline": "top", "labelFont": "Liberation Sans", "labelFontSize": 39, "labelColor": "black", "labelPadding": 1, "labelOffset": -4,
        "labelFlush": false, "labelOverlap": false, "labelBound": false,
        "tickSize": {"condition": {"test": "datum.value === 0 || datum.value === 50", "value": 18}, "value": 12},
        "tickColor": "black", "tickWidth": 2, "domainColor": "black", "domainWidth": 2, "grid": false, "title": null}},
    "text": {"field": "s"},
    "color": {"field": "p", "type": "nominal", "scale": {"domain": [0,1,2,3,4,5,6,7], "range": ["#FF0000","#0000A0","#008000","#FF8000","#808000","#800080","#008080","#808080"]}, "legend": null}
   }
  },
  {
   "transform": [{"filter": "(datum.k === 'r1' || datum.k === 'r2') && datum.p > 0"}],
   "mark": {"type": "text", "font": "DejaVu Sans", "fontSize": 37, "align": "left", "baseline": "middle"},
   "encoding": {
    "x": {"field": "t", "type": "quantitative", "scale": {"domain": [25.02, 42.75], "nice": false, "zero": false},
      "axis": {"values": [25.2,25.4,25.6,25.8,26,26.2,26.4,26.6,26.8,27,27.2,27.4,27.6,27.8,28,28.2,28.4,28.6,28.8,29,29.2,29.4,29.6,29.8,30,30.2,30.4,30.6,30.8,31,31.2,31.4,31.6,31.8,32,32.2,32.4,32.6,32.8,33,33.2,33.4,33.6,33.8,34,34.2,34.4,34.6,34.8,35,35.2,35.4,35.6,35.8,36,36.2,36.4,36.6,36.8,37,37.2,37.4,37.6,37.8,38,38.2,38.4,38.6,38.8,39,39.2,39.4,39.6,39.8,40,40.2,40.4,40.6,40.8,41,41.2,41.4,41.6,41.8,42,42.2,42.4,42.6],
        "labelExpr": "(abs(datum.value - round(datum.value)) < 0.01 && round(datum.value) != 34 && round(datum.value) != 35) ? format(round(datum.value), 'd') : ''",
        "tickSize": {"condition": {"test": "abs(datum.value - round(datum.value)) < 0.01", "value": 15}, "value": 7},
        "tickColor": "black", "tickWidth": 2, "domainColor": "black", "domainWidth": 2, "grid": false,
        "labelFont": "Liberation Sans", "labelFontSize": 41, "labelColor": "black", "labelPadding": 7, "labelFlush": false, "labelOverlap": false, "labelBound": false,
        "title": "Time (min)", "titleFont": "Liberation Sans", "titleFontSize": 44, "titleFontWeight": "normal", "titleColor": "black",
        "titleAnchor": null, "titleAlign": "center", "titleBaseline": "alphabetic", "titleX": 965, "titleY": 80}},
    "y": {"field": "v", "type": "quantitative", "scale": {"domain": [0, 100], "nice": false, "zero": true},
      "axis": {"values": [0,10,20,30,40,50,60,70,80,90,100],
        "labelExpr": "datum.value % 50 === 0 ? datum.label : ''",
        "labelBaseline": "top", "labelFont": "Liberation Sans", "labelFontSize": 39, "labelColor": "black", "labelPadding": 1, "labelOffset": -4,
        "labelFlush": false, "labelOverlap": false, "labelBound": false,
        "tickSize": {"condition": {"test": "datum.value === 0 || datum.value === 50", "value": 18}, "value": 12},
        "tickColor": "black", "tickWidth": 2, "domainColor": "black", "domainWidth": 2, "grid": false, "title": null}},
    "text": {"field": "s"},
    "color": {"field": "p", "type": "nominal", "scale": {"domain": [0,1,2,3,4,5,6,7], "range": ["#FF0000","#0000A0","#008000","#FF8000","#808000","#800080","#008080","#808080"]}, "legend": null}
   }
  }
 ]
}
}
